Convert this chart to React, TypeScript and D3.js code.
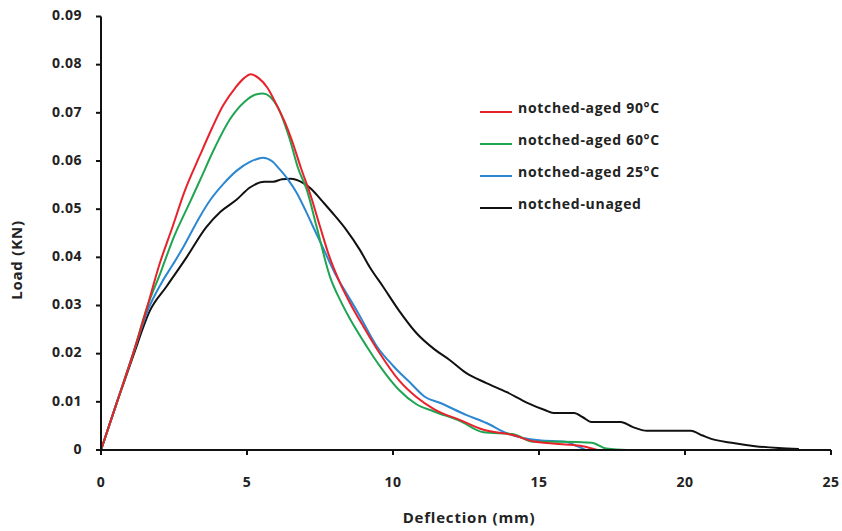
import React from "react";
import * as d3 from "d3";

const xTicks = [0, 5, 10, 15, 20, 25];
const yTicks = [0, 0.01, 0.02, 0.03, 0.04, 0.05, 0.06, 0.07, 0.08, 0.09];
const yTickLabels = ["0", "0.01", "0.02", "0.03", "0.04", "0.05", "0.06", "0.07", "0.08", "0.09"];

const seriesNames = ["notched-aged 90°C", "notched-aged 60°C", "notched-aged 25°C", "notched-unaged"];
const seriesColors = ["#e8222b", "#1fa552", "#2b87d1", "#111111"];

const x90 = [0, 0.55, 1.1, 1.55, 2.0, 2.46, 2.85, 3.39, 3.8, 4.18, 4.6, 4.9, 5.13, 5.4, 5.7, 6.0, 6.3, 6.53, 6.85, 7.15, 7.5, 7.8, 8.2, 8.6, 9.0, 9.5, 10.2, 10.8, 11.4, 12.3, 13.1, 14.1, 14.8, 15.8, 16.5, 17.0];
const y90 = [0, 0.01, 0.02, 0.029, 0.0385, 0.0465, 0.0535, 0.0612, 0.0668, 0.0715, 0.0752, 0.0772, 0.078, 0.0772, 0.0752, 0.0718, 0.068, 0.0644, 0.0585, 0.0534, 0.0464, 0.0405, 0.0345, 0.0297, 0.0255, 0.0205, 0.0145, 0.011, 0.0085, 0.0062, 0.0042, 0.0031, 0.0018, 0.0012, 0.0008, 0];

const x60 = [0, 0.55, 1.1, 1.57, 2.05, 2.46, 3.05, 3.39, 3.9, 4.41, 4.9, 5.3, 5.55, 5.8, 6.05, 6.47, 6.75, 7.05, 7.4, 7.84, 8.2, 8.5, 9.1, 9.6, 10.2, 10.8, 11.4, 12.3, 13.1, 14.1, 14.8, 15.8, 16.8, 17.3, 18, 19.5];
const y60 = [0, 0.01, 0.02, 0.0295, 0.037, 0.0437, 0.0515, 0.056, 0.0628, 0.0686, 0.0722, 0.0738, 0.074, 0.0733, 0.0712, 0.0644, 0.0585, 0.054, 0.046, 0.036, 0.031, 0.0275, 0.0215, 0.017, 0.0125, 0.0095, 0.008, 0.006, 0.0037, 0.0033, 0.0017, 0.0017, 0.0015, 0.0003, 0, 0];

const x25 = [0, 0.55, 1.1, 1.6, 2.1, 2.46, 2.76, 3.39, 3.73, 4.2, 4.65, 5.1, 5.55, 5.85, 6.13, 6.4, 6.7, 7.0, 7.26, 7.6, 8.07, 8.4, 8.8, 9.45, 10.0, 10.6, 11.1, 11.6, 12.5, 13.2, 13.9, 15.0, 15.9, 16.3, 16.6];
const y25 = [0, 0.01, 0.02, 0.029, 0.035, 0.0385, 0.0415, 0.0485, 0.0518, 0.0553, 0.058, 0.0598, 0.0607, 0.06, 0.0582, 0.0562, 0.0534, 0.0498, 0.0464, 0.042, 0.036, 0.0326, 0.0285, 0.0215, 0.0175, 0.0139, 0.011, 0.0098, 0.0073, 0.0056, 0.0035, 0.002, 0.0017, 0.0008, 0];

const xUn = [0, 0.55, 1.1, 1.68, 2.25, 2.93, 3.6, 4.1, 4.65, 5.1, 5.6, 5.9, 6.2, 6.5, 6.9, 7.2, 7.6, 8.0, 8.4, 8.86, 9.2, 9.65, 10.2, 10.8, 11.4, 11.94, 12.5, 13.2, 13.9, 14.6, 15.2, 15.5, 16.2, 16.5, 16.8, 17.8, 18.2, 18.7, 20.2, 20.6, 20.9, 21.6, 22.4, 23.2, 23.9];
const yUn = [0, 0.01, 0.0195, 0.029, 0.034, 0.04, 0.0462, 0.0495, 0.052, 0.0545, 0.0557, 0.0557, 0.0562, 0.0563, 0.0555, 0.0542, 0.0515, 0.0487, 0.0457, 0.0416, 0.038, 0.034, 0.029, 0.0243, 0.021, 0.0187, 0.016, 0.0139, 0.012, 0.0098, 0.0083, 0.0077, 0.0077, 0.0068, 0.0058, 0.0058, 0.0048, 0.004, 0.004, 0.003, 0.0023, 0.0015, 0.0008, 0.0004, 0.0002];

const seriesX = [x90, x60, x25, xUn];
const seriesY = [y90, y60, y25, yUn];

export default function App() {
  const W = 842, H = 531;
  const x = d3.scaleLinear().domain([0, 25]).range([101, 831]);
  const y = d3.scaleLinear().domain([0, 0.09]).range([450, 16.5]);
  const line = d3.line<[number, number]>().x(d => x(d[0])).y(d => y(d[1])).curve(d3.curveMonotoneX);
  const font = "'Open Sans', 'DejaVu Sans', sans-serif";
  const drawOrder = [3, 2, 1, 0];
  return (
    <svg width={W} height={H} style={{ position: "absolute", left: 0, top: 0, background: "#fff" }} fontFamily={font}>
      <rect width={W} height={H} fill="#fff" />
      {drawOrder.map(i => (
        <path key={i} d={line(seriesX[i].map((v, k) => [v, seriesY[i][k]] as [number, number])) || ""}
          fill="none" stroke={seriesColors[i]} strokeWidth={2} strokeLinejoin="round" />
      ))}
      <line x1={x(0)} x2={x(0)} y1={y(0) + 5} y2={y(0.09)} stroke="#111" strokeWidth={2} />
      <line x1={x(0) - 5} x2={x(25)} y1={y(0)} y2={y(0)} stroke="#111" strokeWidth={2} />
      {yTicks.map((t, i) => (
        <g key={"y" + i}>
          <line x1={x(0) - 5} x2={x(0)} y1={y(t)} y2={y(t)} stroke="#111" strokeWidth={2} />
          <text x={82} y={y(t)} textAnchor="end" dominantBaseline="middle" fontSize={14} letterSpacing={0.5} fontWeight="bold" fill="#222">{yTickLabels[i]}</text>
        </g>
      ))}
      {xTicks.map((t, i) => (
        <g key={"x" + i}>
          <line x1={x(t)} x2={x(t)} y1={y(0)} y2={y(0) + 5} stroke="#111" strokeWidth={2} />
          <text x={x(t)} y={483} textAnchor="middle" dominantBaseline="middle" fontSize={14} letterSpacing={0.5} fontWeight="bold" fill="#222">{t}</text>
        </g>
      ))}
      <text x={469} y={519} textAnchor="middle" dominantBaseline="middle" fontSize={15} letterSpacing={0.8} fontWeight="bold" fill="#222">Deflection (mm)</text>
      <text transform="translate(18,260) rotate(-90)" textAnchor="middle" dominantBaseline="middle" fontSize={15} letterSpacing={0.8} fontWeight="bold" fill="#222">Load (KN)</text>
      {seriesNames.map((n, i) => (
        <g key={"l" + i}>
          <line x1={480} x2={512} y1={112 + i * 32} y2={112 + i * 32} stroke={seriesColors[i]} strokeWidth={2} />
          <text x={518} y={109 + i * 32} dominantBaseline="middle" fontSize={14} letterSpacing={0.7} fontWeight="bold" fill="#222">{n}</text>
        </g>
      ))}
    </svg>
  );
}
